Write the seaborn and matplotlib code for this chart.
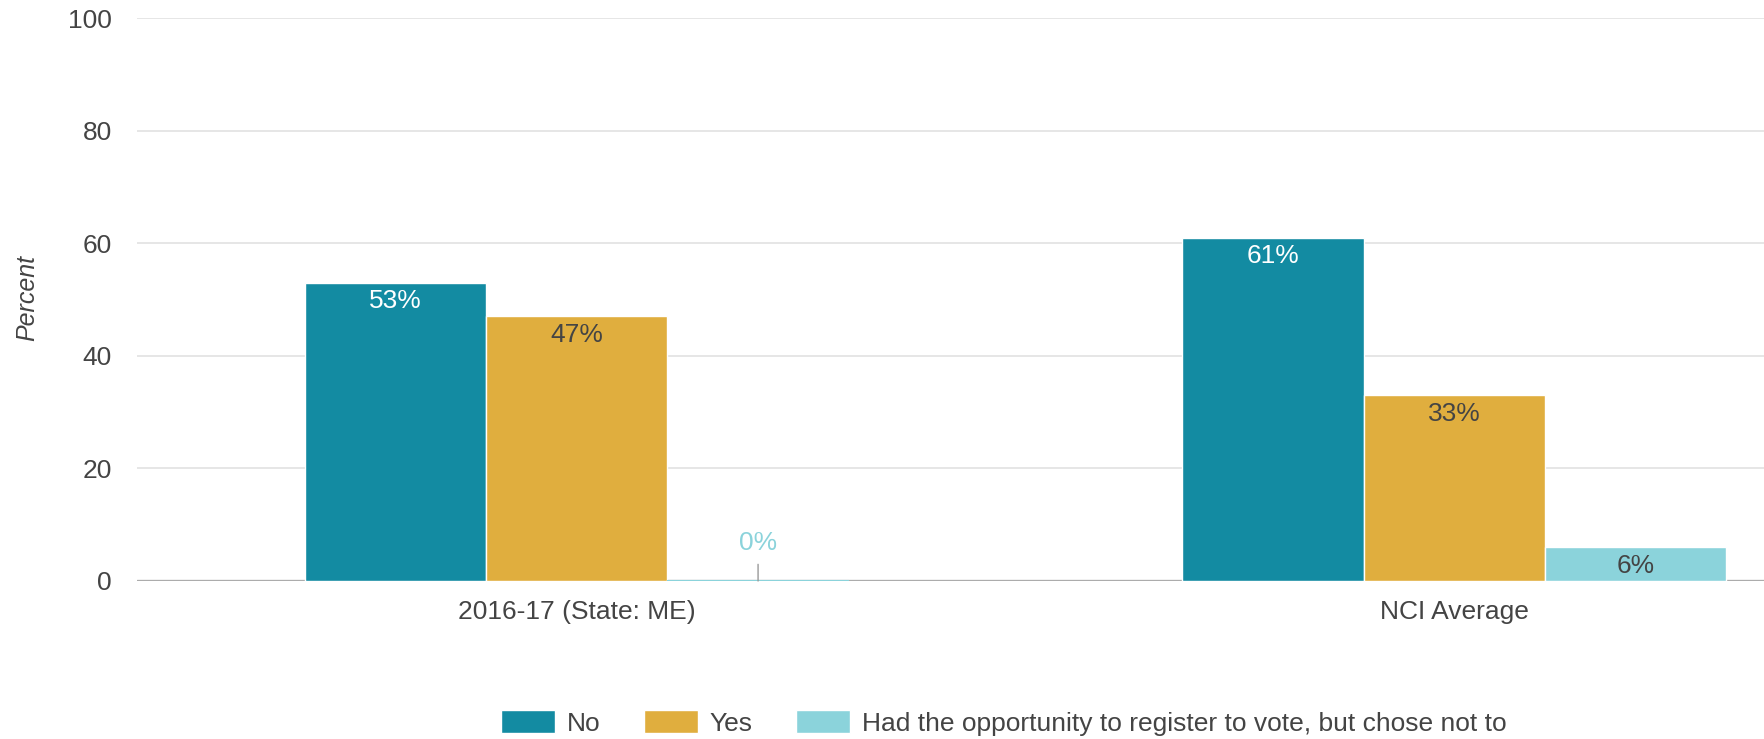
import matplotlib
matplotlib.use("Agg")
import matplotlib.pyplot as plt
import seaborn as sns
import pandas as pd

# chart data
groups = ["2016-17 (State: ME)", "NCI Average"]
series = ["No", "Yes", "Had the opportunity to register to vote, but chose not to"]
no_vals = [53, 61]
yes_vals = [47, 33]
chose_not_vals = [0, 6]
y_ticks = [0, 20, 40, 60, 80, 100]

colors = ["#138ba2", "#e0ae3e", "#8bd3db"]
label_colors = ["white", "#444444", "#444444"]
text_color = "#444444"

series_vals = [no_vals, yes_vals, chose_not_vals]
rows = []
for s, vals in zip(series, series_vals):
    for g, v in zip(groups, vals):
        rows.append({"group": g, "series": s, "value": v})
df = pd.DataFrame(rows)

sns.set_theme(style="white")
plt.rcParams["font.family"] = ["Liberation Sans", "DejaVu Sans"]

W, H = 1765, 739
fig = plt.figure(figsize=(W / 100, H / 100), dpi=100)
ax = fig.add_axes([137 / W, 158 / H, 1628 / W, 563 / H])

sns.barplot(data=df, x="group", y="value", hue="series", palette=colors,
            width=0.62, gap=0, saturation=1, edgecolor="white", linewidth=1,
            ax=ax, zorder=3)

# value labels
for i, cont in enumerate(ax.containers):
    for bar, v in zip(cont, series_vals[i]):
        x = bar.get_x() + bar.get_width() / 2
        if v == 0:
            bar.set_edgecolor(colors[i])
            bar.set_linewidth(1.5)
            ax.annotate(f"{v}%", xy=(x, 0), xytext=(0, 27), textcoords="offset points",
                        ha="center", va="center", color=colors[i], fontsize=19,
                        arrowprops=dict(arrowstyle="-", color="#999999", lw=1,
                                        shrinkA=4, shrinkB=0), zorder=5)
        else:
            ax.annotate(f"{v}%", xy=(x, v), xytext=(0, -13.5), textcoords="offset points",
                        ha="center", va="center", color=label_colors[i], fontsize=19, zorder=5)

# axes styling
ax.set_ylim(0, 100)
ax.set_yticks(y_ticks)
ax.set_xlim(-0.501, 1.354)
ax.yaxis.grid(True, color="#e4e4e4", lw=1.3)
ax.set_axisbelow(True)
ax.axhline(0, color="#acacac", lw=2.4, zorder=2)
for sp in ax.spines.values():
    sp.set_visible(False)
ax.tick_params(axis="both", length=0, labelsize=19, colors=text_color)
ax.tick_params(axis="y", pad=18)
ax.tick_params(axis="x", pad=14)
ax.set_xlabel("")
ax.set_ylabel("")

fig.text(27 / W, 1 - 298 / H, "Percent", rotation=90, ha="center", va="center",
         style="italic", fontsize=18, color=text_color)

# legend at the bottom
handles, labels = ax.get_legend_handles_labels()
ax.get_legend().remove()
fig.legend(handles, labels, loc="center left", bbox_to_anchor=(501 / W, 1 - 723 / H),
           ncol=3, frameon=False, fontsize=19, labelcolor=text_color,
           handlelength=2.05, handleheight=0.98, handletextpad=0.45,
           columnspacing=1.63, borderpad=0, borderaxespad=0)

fig.savefig("out.png", dpi=100)
